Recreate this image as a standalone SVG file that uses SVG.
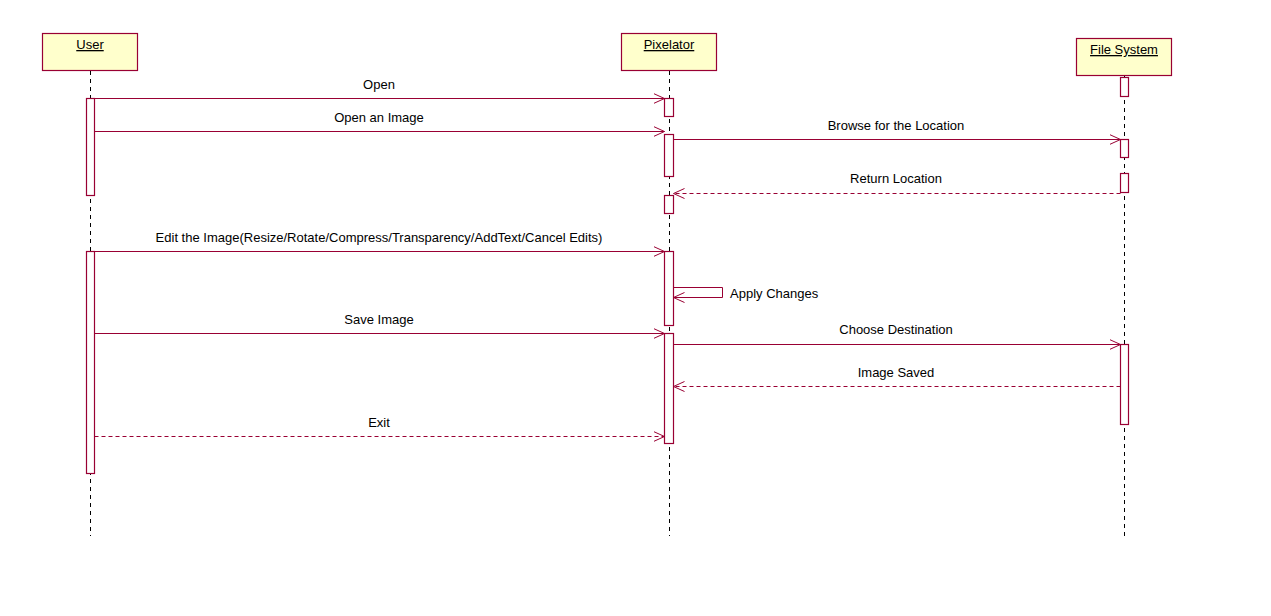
<svg xmlns="http://www.w3.org/2000/svg" width="1271" height="616" viewBox="0 0 1271 616">
<defs>
<marker id="arr" markerWidth="12" markerHeight="12" refX="11" refY="6" orient="auto" markerUnits="userSpaceOnUse">
<path d="M0,1 L11,6 L0,11" fill="none" stroke="#990033" stroke-width="1"/>
</marker>
</defs>
<style>
.box{fill:#ffffcc;stroke:#990033;stroke-width:1.2}
.act{fill:#ffffff;stroke:#990033;stroke-width:1.2}
.life{stroke:#000;stroke-width:1;stroke-dasharray:4,4}
.msg{stroke:#990033;stroke-width:1;fill:none;marker-end:url(#arr)}
.ret{stroke:#990033;stroke-width:1;fill:none;stroke-dasharray:4,3;marker-end:url(#arr)}
text{font-family:"Liberation Sans",Arial,sans-serif;font-size:13px;fill:#000}
.t{text-anchor:middle;text-decoration:underline}
.l{text-anchor:middle}
</style>
<rect width="1271" height="616" fill="#ffffff"/>
<g id="user">
<rect class="box" x="42.5" y="33.5" width="95" height="37"/>
<text class="t" x="90" y="49">User</text>
<line class="life" x1="90.5" y1="71" x2="90.5" y2="536"/>
<rect class="act" x="86.5" y="98.5" width="8" height="97"/>
<rect class="act" x="86.5" y="251.5" width="8" height="222"/>
</g>
<g id="pixelator">
<rect class="box" x="621.5" y="33.5" width="95" height="37"/>
<text class="t" x="669" y="49">Pixelator</text>
<line class="life" x1="669.5" y1="71" x2="669.5" y2="536"/>
<rect class="act" x="664.5" y="98.5" width="9" height="18"/>
<rect class="act" x="664.5" y="134.5" width="9" height="42"/>
<rect class="act" x="664.5" y="195.5" width="9" height="18"/>
<rect class="act" x="664.5" y="251.5" width="9" height="74"/>
<rect class="act" x="664.5" y="333.5" width="9" height="110"/>
</g>
<g id="filesystem">
<rect class="box" x="1076.5" y="38.5" width="95" height="37"/>
<text class="t" x="1124" y="54">File System</text>
<line class="life" x1="1124.5" y1="76" x2="1124.5" y2="536"/>
<rect class="act" x="1120.5" y="77.5" width="8" height="19"/>
<rect class="act" x="1120.5" y="139.5" width="8" height="18"/>
<rect class="act" x="1120.5" y="173.5" width="8" height="19"/>
<rect class="act" x="1120.5" y="344.5" width="8" height="80"/>
</g>
<g id="connectors">
<line class="msg" x1="94.5" y1="98.5" x2="664.5" y2="98.5"/>
<text class="l" x="379" y="89">Open</text>
<line class="msg" x1="94.5" y1="131.5" x2="664.5" y2="131.5"/>
<text class="l" x="379" y="122">Open an Image</text>
<line class="msg" x1="673.5" y1="139.5" x2="1120.5" y2="139.5"/>
<text class="l" x="896" y="130">Browse for the Location</text>
<line class="ret" x1="1120.5" y1="193.5" x2="673.5" y2="193.5"/>
<text class="l" x="896" y="183">Return Location</text>
<line class="msg" x1="94.5" y1="251.5" x2="664.5" y2="251.5"/>
<text class="l" x="379" y="242">Edit the Image(Resize/Rotate/Compress/Transparency/AddText/Cancel Edits)</text>
<path class="msg" d="M673.5,287.5 H722.5 V297.5 H673.5"/>
<text x="730" y="298">Apply Changes</text>
<line class="msg" x1="94.5" y1="333.5" x2="664.5" y2="333.5"/>
<text class="l" x="379" y="324">Save Image</text>
<line class="msg" x1="673.5" y1="344.5" x2="1120.5" y2="344.5"/>
<text class="l" x="896" y="334">Choose Destination</text>
<line class="ret" x1="1120.5" y1="386.5" x2="673.5" y2="386.5"/>
<text class="l" x="896" y="377">Image Saved</text>
<line class="ret" x1="94.5" y1="436.5" x2="664.5" y2="436.5"/>
<text class="l" x="379" y="427">Exit</text>
</g>
</svg>
